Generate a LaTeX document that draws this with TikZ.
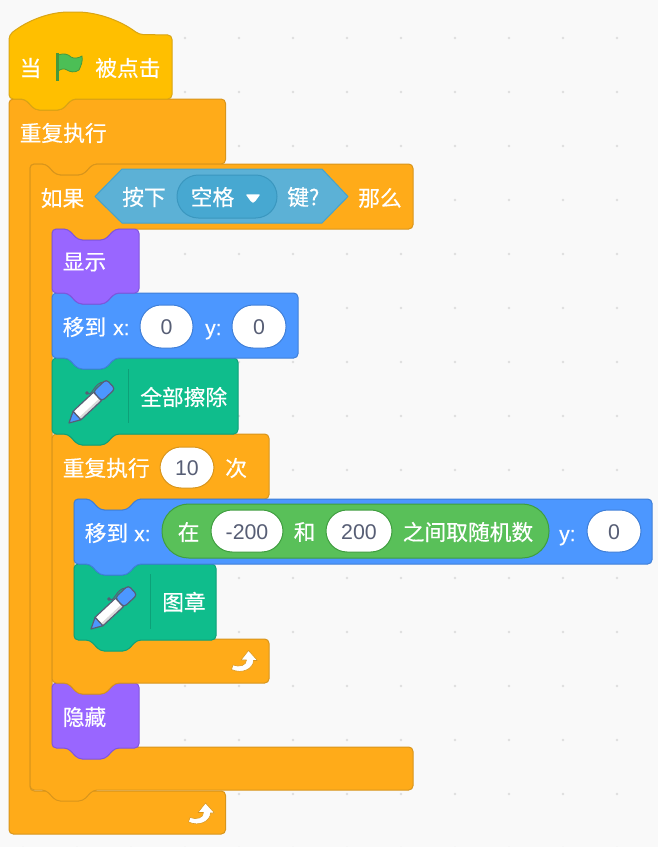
\documentclass[tikz,border=0pt]{standalone}
\usepackage{fontspec}
\setmainfont{Liberation Sans}
\newfontfamily\cjk[FakeBold=0.35]{Noto Sans CJK SC}
\newfontfamily\latb[FakeBold=0.5]{Liberation Sans}
\definecolor{bgc}{HTML}{F9F9F9}
\definecolor{dotc}{HTML}{DEDEDE}
\definecolor{hatF}{HTML}{FFBF00}\definecolor{hatD}{HTML}{D9A514}
\definecolor{ctlF}{HTML}{FFAB19}\definecolor{ctlD}{HTML}{D8951C}
\definecolor{lookF}{HTML}{9966FF}\definecolor{lookD}{HTML}{8055DD}
\definecolor{moveF}{HTML}{4C97FF}\definecolor{moveD}{HTML}{3F7FD8}
\definecolor{penF}{HTML}{0FBD8C}\definecolor{penD}{HTML}{0DA078}
\definecolor{opF}{HTML}{59C059}\definecolor{opD}{HTML}{3F9E3F}
\definecolor{senF}{HTML}{5CB1D6}\definecolor{senD}{HTML}{47A3CB}
\definecolor{ddF}{HTML}{47A8D1}\definecolor{ddD}{HTML}{3A97BF}
\definecolor{numc}{HTML}{575E75}
\definecolor{flagF}{HTML}{4CBF56}\definecolor{flagD}{HTML}{45993D}
\tikzset{
  x=0.75pt,y=-0.75pt,
  blk/.style={line width=0.75pt,rounded corners=3.2pt,line join=round},
  lab/.style={anchor=west,inner sep=0pt,text=white,font=\cjk\fontsize{16.3}{18}\selectfont},
  lat/.style={anchor=base west,inner sep=0pt,text=white,font=\latb\fontsize{15.6}{18}\selectfont},
  num/.style={anchor=center,inner sep=0pt,text=numc,font=\fontsize{16}{18}\selectfont},
}
% stack block: fill, draw, x0, y0, x1, y1
\newcommand{\stackblk}[6]{%
  \draw[blk,fill=#1,draw=#2] (#3,#4) -- ++(16,0) -- ++(10,11) -- ++(27,0) -- ++(10,-11) -- (#5,#4) -- (#5,#6)
   -- ({#3+63},#6) -- ++(-10,11) -- ++(-27,0) -- ++(-10,-11) -- (#3,#6) -- cycle;}
% C block: x0, y0, x1(arm), y1(arm bottom), xi, y2(bar top), x2(bar right), y3
\newcommand{\cblk}[8]{%
  \draw[blk,fill=ctlF,draw=ctlD] (#1,#2) -- ++(16,0) -- ++(10,11) -- ++(27,0) -- ++(10,-11) -- (#3,#2) -- (#3,#4)
   -- ({#5+63},#4) -- ++(-10,11) -- ++(-27,0) -- ++(-10,-11) -- (#5,#4) -- (#5,#6) -- (#7,#6) -- (#7,#8)
   -- ({#1+63},#8) -- ++(-10,11) -- ++(-27,0) -- ++(-10,-11) -- (#1,#8) -- cycle;}
% C block with a flat bottom (cap)
\newcommand{\capblk}[8]{%
  \draw[blk,fill=ctlF,draw=ctlD] (#1,#2) -- ++(16,0) -- ++(10,11) -- ++(27,0) -- ++(10,-11) -- (#3,#2) -- (#3,#4)
   -- ({#5+63},#4) -- ++(-10,11) -- ++(-27,0) -- ++(-10,-11) -- (#5,#4) -- (#5,#6) -- (#7,#6) -- (#7,#8) -- (#1,#8) -- cycle;}
% white input pill: x0, y0, x1, y1, border
\newcommand{\inpill}[5]{%
  \draw[fill=white,draw=#5,line width=0.75pt,rounded corners=15.8pt] (#1,#2) rectangle (#3,#4);}
\newcommand{\penicon}[2]{%
  \begin{scope}[shift={(#1,#2)},line join=round,draw=numc,line width=0.9pt]
    \draw[line width=0.7pt] (18,-30) .. controls (23,-25) and (25,-41) .. (35,-41);
    \draw[fill=numc] (18,-30) circle[radius=1.2];
    \begin{scope}[rotate=43]
      \draw[fill=moveF] (0,0) -- (11,-5.8) -- (11,5.8) -- cycle;
      \fill[white] (11,-5.8) rectangle (39,5.8);
      \fill[black!14] (11,2.8) rectangle (39,5.8);
      \draw (11,-5.8) rectangle (39,5.8);
      \draw[fill=moveF,rounded corners=2.5pt] (39,-6.5) -- (57,-6.5) -- (57,6.5) -- (39,6.5) -- cycle;
    \end{scope}
  \end{scope}}
\newcommand{\turnarrow}[2]{%
  \begin{scope}[shift={(#1,#2)}]
    \draw[fill=white,draw=ctlD,line width=0.4pt,line join=round] (0,0) -- (9,10) -- (5,10) .. controls (5,18) and (-6,24) .. (-17,19) -- (-15.5,14.5) .. controls (-9,17) and (-2,15) .. (-2,9.5) -- (-7.5,9.5) -- cycle;
  \end{scope}}
\begin{document}
\begin{tikzpicture}
\useasboundingbox (0,0) rectangle (658,847);
\clip (0,0) rectangle (658,847);
\fill[bgc] (0,0) rectangle (658,847);
\foreach \gx in {23,77,...,617} \foreach \gy in {38,92,...,848} \fill[dotc] (\gx,\gy) circle[radius=1.3];

% outer forever
\capblk{9}{99}{225.5}{164}{30}{791}{225.5}{834}
% if-then
\cblk{30}{164}{413}{229}{52}{747}{413}{790}
% hide
\stackblk{lookF}{lookD}{52}{683}{139}{748}
% repeat 10
\cblk{52}{434}{269}{499}{74}{639}{269}{683}
% stamp
\stackblk{penF}{penD}{74}{564}{216}{640}
% goto random
\stackblk{moveF}{moveD}{74}{499}{652}{564}
% erase
\stackblk{penF}{penD}{52}{358}{238}{434}
% goto
\stackblk{moveF}{moveD}{52}{293}{298}{358}
% show
\stackblk{lookF}{lookD}{52}{229}{139}{293}
% hat
\draw[blk,fill=hatF,draw=hatD] (9,35) .. controls (28,20) and (50,12) .. (73,12) .. controls (96,12) and (120,20) .. (139,34.5) -- (172,35) -- (172,99)
  -- (72,99) -- ++(-10,11) -- ++(-27,0) -- ++(-10,-11) -- (9,99) -- cycle;

% hat content
\node[lab] (tDang) at (19.5,68) {当};
\node[lab] (tClicked) at (95,68) {被点击};
\draw[fill=flagF,draw=flagD,line width=0.6pt,line join=round] (58,55) .. controls (64,53) and (68,54) .. (71,57) .. controls (74,59) and (79,58) .. (82,56) .. controls (83,61) and (81,66) .. (79,70) .. controls (75,73) and (70,72) .. (67,70) .. controls (64,68) and (61,69) .. (58,71) -- cycle;
\fill[flagD] (55.5,53) rectangle (58.5,81);

\node[lab] (tForever) at (19.5,133) {重复执行};

% if header
\node[lab] (tIf) at (40.5,198) {如果};
\draw[fill=senF,draw=senD,line width=0.75pt,line join=round] (95,196.5) -- (122,169) -- (322,169) -- (348,196.5) -- (322,223) -- (122,223) -- cycle;
\node[lab] (tPress) at (122,197) {按下};
\draw[fill=ddF,draw=ddD,line width=0.75pt,rounded corners=16pt] (177,175) rectangle (277,218);
\node[lab] (tSpace) at (190.5,197) {空格};
\draw[fill=white,draw=white,line join=round,line width=1pt] (247,195) -- (259,195) -- (255,200.5) -- (253,202) -- (251,200.5) -- cycle;
\node[lab] (tKey) at (287,197) {键?};
\node[lab] (tThen) at (358,198) {那么};

\node[lab] (tShow) at (62.5,262) {显示};

% goto 1
\node[lab] (tGoto) at (62.5,327) {移到};
\node[lat] (tGx) at (113,335) {x:};
\inpill{140}{305}{193}{348}{moveD}
\node[num] (n1) at (166.5,327) {0};
\node[lat] (tGy) at (205,335) {y:};
\inpill{232}{305}{286}{348}{moveD}
\node[num] (n2) at (259,327) {0};

% erase
\penicon{69}{423}
\draw[penD,line width=0.75pt] (128,369) -- (128,423);
\node[lab] (tErase) at (140,397) {全部擦除};

% repeat 10
\node[lab] (tRepeat) at (62.5,468) {重复执行};
\inpill{160}{447}{214}{488}{ctlD}
\node[num] (n3) at (187,468) {10};
\node[lab] (tTimes) at (225,468) {次};

% goto random
\node[lab] (tGoto2) at (84.5,533) {移到};
\node[lat] (tGx2) at (134,541) {x:};
\draw[fill=opF,draw=opD,line width=0.75pt,rounded corners=20pt] (162,504) rectangle (549,558);
\node[lab] (tAt) at (177.5,532) {在};
\inpill{211}{510}{283}{552}{opD}
\node[num] (n4) at (247,532) {-200};
\node[lab] (tAnd) at (293.5,532) {和};
\inpill{326}{510}{392}{552}{opD}
\node[num] (n5) at (359,532) {200};
\node[lab] (tBetween) at (402.5,532) {之间取随机数};
\node[lat] (tGy2) at (559,541) {y:};
\inpill{587}{510}{641}{552}{moveD}
\node[num] (n6) at (614,532) {0};

% stamp
\penicon{91}{629}
\draw[penD,line width=0.75pt] (150,574) -- (150,629);
\node[lab] (tStamp) at (162,602) {图章};

\turnarrow{248.5}{650.5}
\turnarrow{205.5}{803}

\node[lab] (tHide) at (62.5,717) {隐藏};
\end{tikzpicture}
\end{document}
